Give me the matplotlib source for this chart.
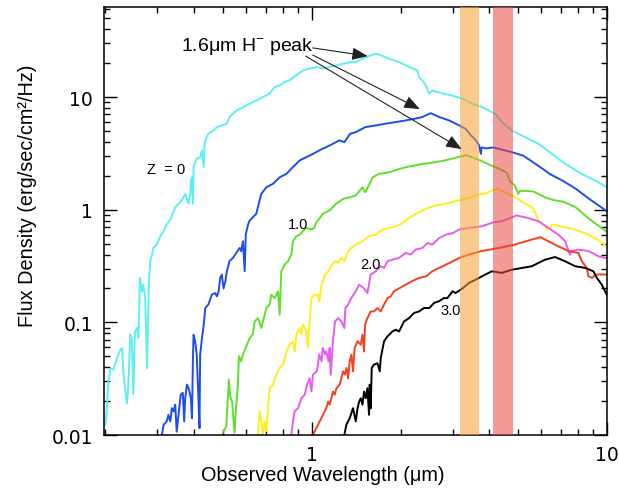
import matplotlib
matplotlib.use("Agg")
import matplotlib.pyplot as plt
from matplotlib.ticker import FuncFormatter, NullFormatter

plt.rcParams["mathtext.fontset"] = "custom"
plt.rcParams["mathtext.rm"] = "Liberation Sans"

# galaxy template seen at redshift z = 0, 0.5, 1.0, 1.5, 2.0, 2.5, 3.0
wave_z00 = [0.200, 0.202, 0.205, 0.208, 0.213, 0.219, 0.225, 0.228, 0.230, 0.234,
            0.237, 0.240, 0.243, 0.246, 0.249, 0.252, 0.256, 0.259, 0.262, 0.266,
            0.269, 0.273, 0.277, 0.281, 0.284, 0.288, 0.291, 0.299, 0.307, 0.315,
            0.323, 0.332, 0.345, 0.354, 0.363, 0.373, 0.378, 0.383, 0.388, 0.390,
            0.393, 0.396, 0.398, 0.408, 0.419, 0.425, 0.431, 0.433, 0.436, 0.447,
            0.465, 0.478, 0.496, 0.516, 0.527, 0.556, 0.585, 0.616, 0.649, 0.684,
            0.720, 0.749, 0.779, 0.810, 0.842, 0.887, 0.934, 0.984, 1.04, 1.09,
            1.15, 1.21, 1.28, 1.35, 1.41, 1.52, 1.65, 1.69, 1.83, 1.98,
            2.14, 2.28, 2.31, 2.37, 2.45, 2.50, 2.56, 2.77, 2.99, 3.24,
            3.50, 3.77, 4.18, 4.40, 4.76, 5.28, 5.86, 6.51, 7.22, 8.20, 9.10, 10.0]
flux_z00 = [0.0123, 0.0162, 0.030, 0.039, 0.038, 0.048, 0.057, 0.059, 0.037, 0.024,
            0.019, 0.032, 0.078, 0.070, 0.023, 0.083, 0.089, 0.073, 0.248, 0.189,
            0.216, 0.164, 0.039, 0.231, 0.350, 0.400, 0.460, 0.490, 0.580, 0.640,
            0.740, 0.820, 1.05, 1.13, 1.21, 1.38, 1.25, 1.13, 1.38, 1.82,
            1.94, 1.13, 2.39, 2.83, 2.93, 3.36, 2.39, 3.59, 4.12, 4.72,
            5.05, 5.41, 5.60, 5.80, 6.65, 7.60, 8.10, 8.70, 9.30, 10.0,
            10.7, 12.3, 12.7, 13.6, 14.1, 15.6, 17.2, 17.9, 18.5, 17.9,
            18.5, 19.1, 19.8, 20.4, 20.4, 22.6, 24.2, 23.9, 21.9, 20.4,
            18.5, 17.2, 15.0, 14.1, 12.3, 10.7, 11.4, 10.8, 10.3, 9.7,
            8.7, 8.15, 7.1, 6.0, 5.05, 4.4, 3.85, 3.13, 2.55, 2.08, 1.82, 1.59]

wave_z05 = [0.311, 0.315, 0.323, 0.327, 0.332, 0.336, 0.341, 0.345, 0.349, 0.354,
            0.360, 0.366, 0.370, 0.373, 0.378, 0.383, 0.390, 0.393, 0.396, 0.398,
            0.403, 0.408, 0.413, 0.417, 0.419, 0.425, 0.431, 0.436, 0.447, 0.459,
            0.471, 0.478, 0.484, 0.490, 0.496, 0.503, 0.510, 0.516, 0.527, 0.541,
            0.570, 0.577, 0.585, 0.593, 0.598, 0.609, 0.616, 0.632, 0.649, 0.666,
            0.675, 0.702, 0.740, 0.779, 0.821, 0.864, 0.911, 0.960, 1.01, 1.06,
            1.12, 1.18, 1.24, 1.29, 1.35, 1.41, 1.52, 1.65, 1.78, 1.93,
            2.08, 2.22, 2.37, 2.53, 2.70, 2.92, 3.16, 3.33, 3.46, 3.60,
            3.69, 3.74, 3.76, 3.91, 4.11, 4.34, 4.81, 5.21, 5.63, 6.08,
            6.41, 7.10, 7.88, 8.73, 9.96]
flux_z05 = [0.0100, 0.0123, 0.0132, 0.0151, 0.0132, 0.0173, 0.0162, 0.0186, 0.0107, 0.0151,
            0.0228, 0.0237, 0.0132, 0.0212, 0.028, 0.026, 0.0212, 0.0141, 0.0451, 0.0776,
            0.0678, 0.0516, 0.0228, 0.0115, 0.0516, 0.0724, 0.0955, 0.134, 0.144, 0.176,
            0.182, 0.170, 0.189, 0.248, 0.266, 0.200, 0.231, 0.284, 0.350, 0.373,
            0.457, 0.428, 0.525, 0.284, 0.602, 0.739, 0.800, 0.858, 0.918, 1.21,
            1.38, 1.58, 1.70, 1.94, 2.08, 2.39, 2.74, 2.93, 3.13, 3.36,
            3.59, 3.85, 4.12, 3.98, 4.72, 4.88, 5.41, 5.60, 5.80, 6.00,
            6.20, 6.40, 6.65, 7.20, 6.65, 6.20, 5.60, 5.20, 4.57, 4.12,
            3.72, 3.13, 3.57, 3.50, 3.57, 3.45, 3.22, 3.01, 2.63, 2.29,
            2.07, 1.80, 1.52, 1.24, 0.975]

wave_z10 = [0.500, 0.514, 0.524, 0.530, 0.538, 0.548, 0.555, 0.562, 0.567, 0.577,
            0.585, 0.597, 0.616, 0.632, 0.641, 0.658, 0.675, 0.684, 0.702, 0.720,
            0.730, 0.749, 0.769, 0.779, 0.789, 0.810, 0.831, 0.853, 0.864, 0.887,
            0.911, 0.934, 0.959, 0.998, 1.02, 1.04, 1.05, 1.09, 1.15, 1.21,
            1.28, 1.35, 1.41, 1.486, 1.52, 1.61, 1.69, 1.83, 1.98, 2.14,
            2.37, 2.58, 2.79, 3.01, 3.17, 3.34,
            3.52, 3.76, 4.01, 4.34, 4.57, 4.69, 4.88, 5.00, 5.07, 5.34,
            5.63, 6.2, 6.57, 7.1, 7.8, 8.65, 8.98, 9.96]
flux_z10 = [0.0105, 0.0120, 0.031, 0.022, 0.0194, 0.0105, 0.0180, 0.027, 0.050, 0.045,
            0.052, 0.059, 0.072, 0.078, 0.102, 0.109, 0.089, 0.102, 0.134, 0.144,
            0.176, 0.164, 0.189, 0.117, 0.284, 0.325, 0.348, 0.400, 0.525, 0.580,
            0.600, 0.644, 0.689, 0.667, 0.689, 0.790, 0.800, 0.918, 0.985, 1.13,
            1.25, 1.29, 1.34, 1.58, 1.43, 1.94, 2.08, 2.15, 2.30, 2.42,
            2.55, 2.62, 2.72, 2.85, 2.95, 3.05,
            2.90, 2.70, 2.50, 2.29, 2.14, 1.80, 1.63, 1.38, 1.47, 1.47,
            1.45, 1.28, 1.22, 1.18, 1.06, 0.84, 0.78, 0.64]

wave_z15 = [0.658, 0.666, 0.675, 0.684, 0.693, 0.702, 0.711, 0.720, 0.739, 0.759,
            0.779, 0.800, 0.821, 0.842, 0.864, 0.876, 0.887, 0.911, 0.920, 0.934,
            0.959, 0.971, 0.984, 0.998, 1.02, 1.05, 1.06, 1.08, 1.11, 1.14,
            1.17, 1.20, 1.23, 1.26, 1.29, 1.33, 1.36, 1.41, 1.486, 1.564,
            1.648, 1.736, 1.83, 1.926, 2.03, 2.14, 2.31, 2.44, 2.63, 2.85,
            3.07, 3.33, 3.60, 3.77, 3.91, 4.07, 4.24, 4.52, 4.88, 5.28,
            5.57, 5.71, 5.86, 6.17, 6.25, 6.42, 6.51, 7.05, 7.8, 8.65, 9.35, 9.98]
flux_z15 = [0.0100, 0.0163, 0.0132, 0.0100, 0.0132, 0.0108, 0.0173, 0.026, 0.028, 0.0343,
            0.0394, 0.0421, 0.0552, 0.0634, 0.068, 0.0552, 0.0778, 0.089, 0.0778, 0.0953,
            0.0833, 0.0593, 0.102, 0.164, 0.176, 0.176, 0.154, 0.216, 0.266, 0.284,
            0.325, 0.348, 0.337, 0.373, 0.348, 0.428, 0.457, 0.490, 0.525, 0.580,
            0.600, 0.667, 0.689, 0.713, 0.760, 0.850, 0.950, 1.02, 1.09, 1.13,
            1.19, 1.25, 1.34, 1.37, 1.40, 1.48, 1.53, 1.43, 1.29, 1.13,
            1.05, 0.95, 0.80, 0.72, 0.667, 0.689, 0.74, 0.71, 0.667, 0.60, 0.54, 0.47]

wave_z20 = [0.853, 0.864, 0.876, 0.899, 0.923, 0.947, 0.964, 0.984, 0.998, 1.01,
            1.04, 1.05, 1.06, 1.08, 1.09, 1.11, 1.12, 1.14, 1.15, 1.16,
            1.18, 1.20, 1.23, 1.26, 1.29, 1.30, 1.33, 1.36, 1.41, 1.447,
            1.504, 1.544, 1.585, 1.648, 1.713, 1.758, 1.805, 1.876, 1.976, 2.08,
            2.165, 2.25, 2.37, 2.47, 2.56, 2.70, 2.85, 3.00, 3.16, 3.41,
            3.77, 4.11, 4.40, 4.57, 4.94, 5.34,
            5.86, 6.33, 6.84, 7.22, 7.41, 7.49, 7.6, 8.0, 8.65, 9.35, 9.98]
flux_z20 = [0.0100, 0.0132, 0.0163, 0.0173, 0.0212, 0.0228, 0.028, 0.0318, 0.0243, 0.0343,
            0.0367, 0.0421, 0.0518, 0.0451, 0.0593, 0.0518, 0.0552, 0.0451, 0.0593, 0.0343,
            0.068, 0.102, 0.109, 0.102, 0.089, 0.134, 0.144, 0.164, 0.189, 0.216,
            0.200, 0.182, 0.266, 0.284, 0.315, 0.304, 0.348, 0.360, 0.373, 0.413,
            0.400, 0.443, 0.457, 0.507, 0.490, 0.560, 0.600, 0.620, 0.667, 0.689,
            0.713, 0.77, 0.79, 0.82, 0.89, 0.85,
            0.79, 0.69, 0.60, 0.525, 0.43, 0.40, 0.43, 0.443, 0.43, 0.386, 0.37]

wave_z25 = [1.01, 1.024, 1.05, 1.064, 1.078, 1.107, 1.12, 1.136, 1.151, 1.166,
            1.181, 1.197, 1.213, 1.244, 1.26, 1.277, 1.294, 1.312, 1.328, 1.345,
            1.363, 1.38, 1.398, 1.43, 1.466, 1.486, 1.504, 1.516, 1.544, 1.585,
            1.625, 1.67, 1.713, 1.758, 1.805, 1.852, 1.90, 1.976, 2.08, 2.18,
            2.31, 2.44, 2.56, 2.70, 2.85, 3.00, 3.16, 3.41, 3.77, 4.29,
            4.88, 5.57, 5.95, 6.33, 6.84, 7.41, 8.0, 8.22, 8.54, 8.65, 8.91, 9.13, 9.98]
flux_z25 = [0.0100, 0.0108, 0.0123, 0.0132, 0.0141, 0.0163, 0.0173, 0.0197, 0.0186, 0.0212,
            0.0243, 0.0228, 0.026, 0.028, 0.0318, 0.0367, 0.0343, 0.0394, 0.0318, 0.0451,
            0.0518, 0.0367, 0.0593, 0.068, 0.0634, 0.0778, 0.0552, 0.0953, 0.109, 0.125,
            0.125, 0.134, 0.125, 0.144, 0.164, 0.170, 0.189, 0.200, 0.216, 0.231,
            0.248, 0.256, 0.284, 0.304, 0.325, 0.348, 0.373, 0.400, 0.430, 0.457,
            0.49, 0.544, 0.57, 0.525, 0.473, 0.43, 0.413, 0.348, 0.304, 0.256, 0.248, 0.266, 0.266]

wave_z30 = [1.29, 1.31, 1.345, 1.38, 1.41, 1.43, 1.447, 1.466, 1.486, 1.504,
            1.524, 1.544, 1.564, 1.572, 1.585, 1.597, 1.625, 1.67, 1.70, 1.713,
            1.758, 1.805, 1.876, 1.926, 1.976, 2.055, 2.137, 2.22, 2.31, 2.40,
            2.50, 2.60, 2.70, 2.80, 2.88, 3.00, 3.07, 3.24, 3.41, 3.60,
            3.77, 4.07, 4.40, 4.76, 5.16, 5.57, 5.86, 6.17, 6.67, 7.22,
            7.80, 8.44, 8.99, 9.24, 9.60, 9.98]
flux_z30 = [0.0100, 0.0123, 0.0141, 0.0173, 0.0132, 0.0173, 0.0197, 0.0212, 0.0186, 0.0243,
            0.0212, 0.026, 0.0151, 0.028, 0.0173, 0.0394, 0.0421, 0.0434, 0.0367, 0.048,
            0.068, 0.075, 0.083, 0.086, 0.083, 0.102, 0.109, 0.121, 0.125, 0.134,
            0.134, 0.149, 0.154, 0.164, 0.164, 0.189, 0.182, 0.200, 0.224, 0.240,
            0.256, 0.284, 0.275, 0.293, 0.304, 0.315, 0.337, 0.360, 0.380, 0.348,
            0.315, 0.304, 0.284, 0.248, 0.216, 0.176]

spectra = [
    (wave_z00, flux_z00, "#5cf0f4"),
    (wave_z05, flux_z05, "#1f4cf0"),
    (wave_z10, flux_z10, "#5fe02c"),
    (wave_z15, flux_z15, "#ffee1e"),
    (wave_z20, flux_z20, "#e65cf0"),
    (wave_z25, flux_z25, "#f2421f"),
    (wave_z30, flux_z30, "#000000"),
]

# shaded filter bands (micron)
band_orange = (3.19, 3.69)
band_red = (4.12, 4.81)

# redshift labels
z_labels = ["Z  = 0", "1.0", "2.0", "3.0"]
z_label_x = [0.276, 0.897, 1.585, 2.96]
z_label_y = [2.29, 0.743, 0.327, 0.13]

# H- peak note and the three arrows
note_xy = (0.362, 26.3)
arrow_from = [(1.008, 27.3), (1.008, 23.6), (0.954, 23.1)]
arrow_to = [(1.549, 23.1), (2.323, 7.82), (3.22, 3.45)]

sans = ["Liberation Sans", "DejaVu Sans"]

fig = plt.figure(figsize=(6.19, 4.89), dpi=100)
ax = fig.add_axes([104 / 619, 1 - 436 / 489, 503 / 619, 428 / 489])

for w, f, c in spectra:
    ax.plot(w, f, color=c, lw=1.4, zorder=2)

ax.axvspan(*band_orange, color="#f4a12e", alpha=0.55, lw=0, zorder=3)
ax.axvspan(*band_red, color="#e8483e", alpha=0.55, lw=0, zorder=3)

for t, x, y in zip(z_labels, z_label_x, z_label_y):
    ax.text(x, y, t, fontsize=10.5, family=sans,
            ha="left" if t.startswith("Z") else "center", va="center", zorder=5)

ax.text(note_xy[0], note_xy[1], "1.6\u03bcm H$^{-}$ peak", fontsize=14,
        family=sans, ha="left", va="baseline", zorder=5)
for a, b in zip(arrow_from, arrow_to):
    ax.annotate("", xy=b, xytext=a, zorder=6,
                arrowprops=dict(arrowstyle="-|>,head_length=0.8,head_width=0.32",
                                mutation_scale=12, color="#222222", lw=0.8,
                                shrinkA=0, shrinkB=0))

ax.set_xscale("log")
ax.set_yscale("log")
ax.set_xlim(0.198, 10)
ax.set_ylim(0.01, 63)

fmt = FuncFormatter(lambda v, p: f"{v:g}")
ax.xaxis.set_major_formatter(fmt)
ax.yaxis.set_major_formatter(fmt)
ax.xaxis.set_minor_formatter(NullFormatter())
ax.yaxis.set_minor_formatter(NullFormatter())

ax.tick_params(which="both", direction="in", top=True, right=True, width=1.0,
               labelsize=13.5)
ax.tick_params(which="major", length=9.5)
ax.tick_params(which="minor", length=4.5)
ax.tick_params(axis="y", which="major", pad=8)
ax.tick_params(axis="x", which="major", pad=7)
for s in ax.spines.values():
    s.set_linewidth(1.1)

ax.set_xlabel("Observed Wavelength (\u03bcm)", fontsize=14.3, family=sans)
ax.set_ylabel("Flux Density (erg/sec/cm\u00b2/Hz)", fontsize=14.3, family=sans)
ax.xaxis.set_label_coords(0.436, -0.070)
ax.yaxis.set_label_coords(-0.133, 0.561)

fig.savefig("out.png", dpi=100)
